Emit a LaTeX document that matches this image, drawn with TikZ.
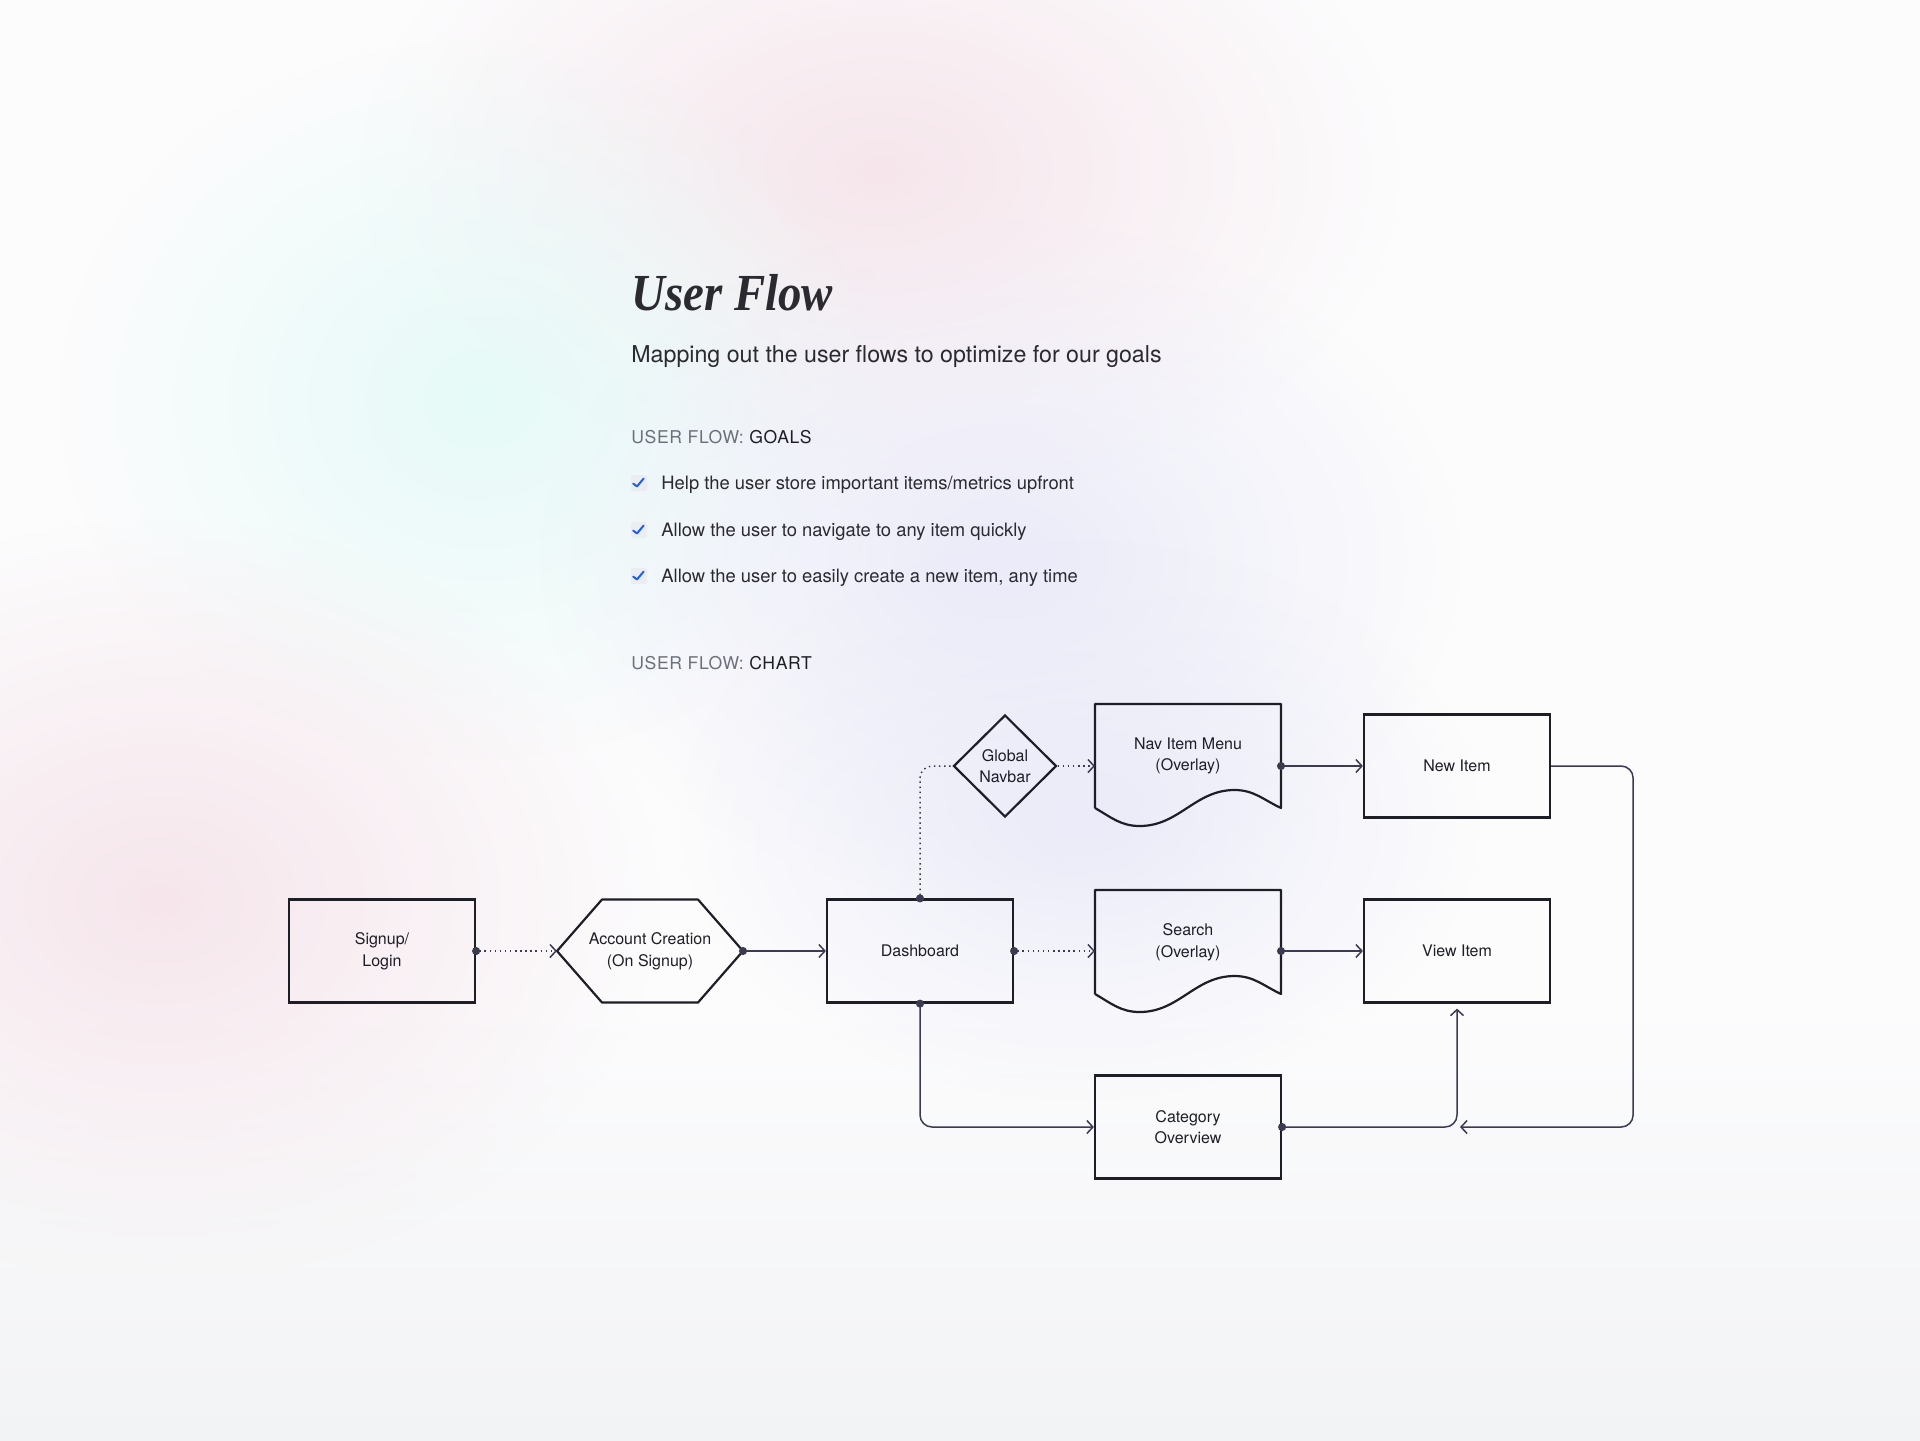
\documentclass[tikz,border=0pt]{standalone}
\usepackage{fontspec}
\usepackage{xcolor}
\usepackage{tikz}
\usetikzlibrary{shapes.geometric,arrows.meta,calc,fadings}
\setmainfont{TeX Gyre Heros}
\newfontfamily\titlefont[FakeStretch=0.9]{Liberation Serif}
\definecolor{ufink}{HTML}{1E1E26}
\definecolor{ufline}{HTML}{3A3A50}
\definecolor{uftext}{HTML}{2A2A30}
\definecolor{ufgrey}{HTML}{6C707A}
\definecolor{ufblue}{HTML}{1F5FE8}
\definecolor{ufbox}{HTML}{EBEDF2}
\definecolor{ufpink}{HTML}{F6E6EC}
\definecolor{ufcyan}{HTML}{E6FAF8}
\definecolor{uflav}{HTML}{EBEBF9}
\definecolor{ufpaper}{HTML}{FCFCFD}
\definecolor{ufmist}{HTML}{F2F3F5}
\tikzfading[name=ufglow, inner color=transparent!0, outer color=transparent!100]

% document shape: box with a wavy bottom
\newcommand{\docoutline}[1]{%
  \draw[ufink, line width=1.1pt, line join=round] (#1.south west) -- (#1.north west) -- (#1.north east) -- (#1.south east)
    to[out=155,in=0] ($(#1.south west)!0.75!(#1.south east)+(0,9pt)$)
    to[out=180,in=0] ($(#1.south west)!0.24!(#1.south east)+(0,-9pt)$)
    to[out=180,in=-30] (#1.south west);}

\begin{document}
\begin{tikzpicture}[x=0.5pt, y=0.5pt,
  flowbox/.style={draw=ufink, line width=1.1pt, minimum width=93pt, minimum height=51.5pt, inner sep=1pt, align=center, text=ufink, font=\fontsize{8}{10.8}\selectfont},
  plainbox/.style={flowbox, draw=none, outer sep=0pt},
  decision/.style={flowbox, diamond, minimum width=51.5pt, minimum height=51pt, inner sep=0pt},
  textline/.style={anchor=base west, inner sep=0pt},
  tickbox/.style={fill=ufbox, minimum size=8pt, inner sep=0pt, rounded corners=1pt,
    path picture={\draw[ufblue, line width=1pt, line cap=round, line join=round, sharp corners]
      ([shift={(-2.9pt,-0.3pt)}]path picture bounding box.center) -- ([shift={(-1pt,-1.7pt)}]path picture bounding box.center) -- ([shift={(2.3pt,2.2pt)}]path picture bounding box.center);}},
  link/.style={ufline, line width=0.75pt, rounded corners=6pt},
  dotlink/.style={link, dash pattern=on 0.75pt off 1.8pt},
  go/.style={-{Straight Barb[length=3pt,width=6.5pt]}},
  dotgo/.style={{Circle[length=4pt]}-{Straight Barb[length=3pt,width=6.5pt]}, shorten <=-2pt},
  dotonly/.style={{Circle[length=4pt]}-, shorten <=-2pt}]

  % background
  \fill[ufpaper] (0,0) rectangle (1920,-1440);
  \useasboundingbox (0,0) rectangle (1920,-1440);
  \shade[top color=ufpaper, bottom color=ufmist] (0,-1000) rectangle (1920,-1440);
  \fill[ufpink, path fading=ufglow] (880,-170) ellipse (520 and 340);
  \fill[ufcyan, path fading=ufglow] (480,-400) ellipse (420 and 360);
  \fill[uflav, path fading=ufglow] (1000,-560) ellipse (460 and 340);
  \fill[uflav, path fading=ufglow] (1080,-820) ellipse (400 and 280);
  \fill[ufpink, path fading=ufglow] (160,-900) ellipse (500 and 380);

  % header text
  \node[textline, text=uftext, font=\titlefont\fontsize{26}{30}\selectfont\bfseries\itshape] (title) at (631,-310) {User Flow};
  \node[textline, text=uftext, font=\fontsize{11.6}{14}\selectfont] (subtitle) at (631,-362) {Mapping out the user flows to optimize for our goals};
  \node[textline, text=ufink, font=\fontsize{8.8}{11}\selectfont\addfontfeature{LetterSpace=3.5}] (goalshead) at (631,-443) {\textcolor{ufgrey}{USER FLOW:} GOALS};

  \node[tickbox] (tick1) at (639,-483) {};
  \node[textline, text=uftext, font=\fontsize{9.2}{11}\selectfont] (goal1) at (661,-489) {Help the user store important items/metrics upfront};
  \node[tickbox] (tick2) at (639,-530) {};
  \node[textline, text=uftext, font=\fontsize{9.2}{11}\selectfont] (goal2) at (661,-536) {Allow the user to navigate to any item quickly};
  \node[tickbox] (tick3) at (639,-576) {};
  \node[textline, text=uftext, font=\fontsize{9.2}{11}\selectfont] (goal3) at (661,-582) {Allow the user to easily create a new item, any time};

  \node[textline, text=ufink, font=\fontsize{8.8}{11}\selectfont\addfontfeature{LetterSpace=3.5}] (charthead) at (631,-669) {\textcolor{ufgrey}{USER FLOW:} CHART};

  % chart
  \node[flowbox] (signup) at (382,-951) {Signup/\\Login};
  \node[plainbox] (account) at (650,-951) {Account Creation\\(On Signup)};
  \draw[ufink, line width=1.1pt, line join=round] (account.west) -- ([xshift=22.5pt]account.north west) -- ([xshift=-22.5pt]account.north east) -- (account.east) -- ([xshift=-22.5pt]account.south east) -- ([xshift=22.5pt]account.south west) -- cycle;
  \node[flowbox] (dash) at (920,-951) {Dashboard};
  \node[decision] (navbar) at (1005,-766) {Global\\Navbar};
  \node[plainbox, minimum height=52pt] (navmenu) at (1188,-756) {Nav Item Menu\\(Overlay)};
  \docoutline{navmenu}
  \node[flowbox] (newitem) at (1457,-766) {New Item};
  \node[plainbox, minimum height=52pt] (search) at (1188,-942) {Search\\(Overlay)};
  \docoutline{search}
  \node[flowbox] (viewitem) at (1457,-951) {View Item};
  \node[flowbox] (category) at (1188,-1127) {Category\\Overview};

  % connectors
  \draw[dotlink, dotgo] (signup.east) -- (account.west);
  \draw[link, dotgo] (account.east) -- (dash.west);
  \draw[dotlink, dotonly] (dash.north) |- (navbar.west);
  \draw[dotlink, go] (navbar.east) -- (navbar.east -| navmenu.west);
  \draw[dotlink, dotgo] (dash.east) -- (dash.east -| search.west);
  \draw[link, dotgo] (newitem.west -| navmenu.east) -- (newitem.west);
  \draw[link, dotgo] (viewitem.west -| search.east) -- (viewitem.west);
  \draw[link, dotgo] (dash.south) |- (category.west);
  \draw[link, dotgo, shorten >=2.5pt] (category.east) -| (viewitem.south);
  \coordinate (loopcorner) at ([xshift=41pt]newitem.east |- category.east);
  \draw[link, go] (newitem.east) -| (loopcorner) -- ([xshift=1.5pt]viewitem.south |- category.east);
\end{tikzpicture}
\end{document}
